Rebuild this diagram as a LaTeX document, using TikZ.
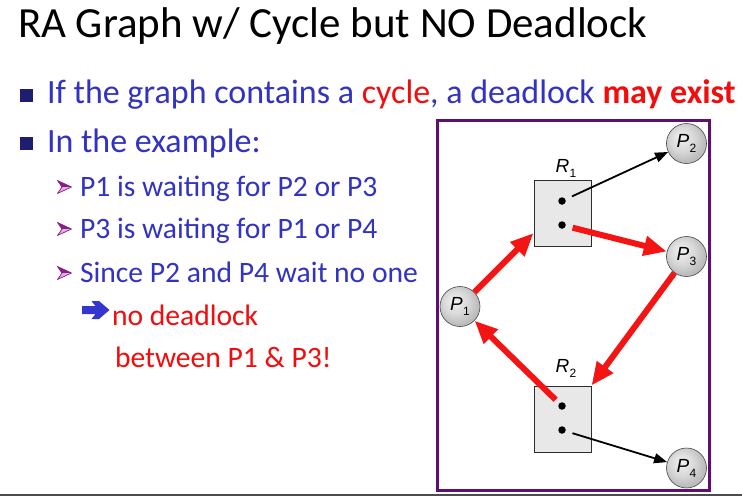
\documentclass[tikz,border=0pt]{standalone}
\usepackage{fontspec}
\setmainfont{Carlito}
\newfontfamily\labfont{Liberation Sans}
\usetikzlibrary{arrows.meta,calc}

\definecolor{txtblue}{HTML}{3232C3}
\definecolor{txtred}{HTML}{F20D0D}
\definecolor{bulletnavy}{HTML}{1E1E70}
\definecolor{framepurple}{HTML}{5E1070}
\definecolor{arrowred}{HTML}{F51414}
\definecolor{subpurple}{HTML}{8A1C8A}
\definecolor{subpink}{HTML}{DDB0DD}
\definecolor{heavyblue}{HTML}{3535D0}
\definecolor{barcolor}{HTML}{4D4D4D}

% light sphere-like fill for the process circles
\pgfdeclareradialshading{procshade}{\pgfpoint{-8bp}{8bp}}{%
  color(0bp)=(gray!10); color(16bp)=(gray!32); color(26bp)=(gray!52); color(50bp)=(gray!62)}

% italic letter with an upright subscript
\newcommand\sublab[2]{{\itshape #1}\kern0.3pt\raisebox{-5pt}{\fontsize{12}{12}\selectfont #2}}

\begin{document}
\begin{tikzpicture}[x=1pt,y=-1pt,
  txt/.style={anchor=base west, inner sep=0pt, outer sep=0pt},
  titletext/.style={txt, font=\fontsize{43}{43}\selectfont},
  maintext/.style={txt, font=\fontsize{34}{34}\selectfont, text=txtblue},
  subtext/.style={txt, font=\fontsize{29.6}{29.6}\selectfont, text=txtblue},
  redtext/.style={txt, font=\fontsize{29.6}{29.6}\selectfont, text=txtred},
  res/.style={rectangle, minimum width=57pt, minimum height=66pt, inner sep=0pt,
    fill=gray!18, draw=gray!35!black, line width=1pt},
  proc/.style={circle, minimum size=40pt, inner sep=0pt, shading=procshade,
    draw=gray!55!black, line width=0.6pt, font=\labfont\fontsize{19}{19}\selectfont},
  lbl/.style={inner sep=0pt, font=\labfont\fontsize{19}{19}\selectfont},
  dot/.style={circle, fill=black, inner sep=0pt, minimum size=7.5pt},
  holdarrow/.style={draw=black, line width=1.8pt, -{Triangle[length=13pt,width=10pt]}},
  redarrow/.style={draw=arrowred, line width=6pt, -{Triangle[length=23pt,width=19pt]}},
  sqbullet/.style={fill=bulletnavy},
  subarrow/.pic={
    \fill[subpurple] (0,-6.5) -- (14,0) -- (4.5,0) -- cycle;
    \fill[subpink] (4.5,0) -- (14,0) -- (0,6.5) -- cycle;
    \draw[subpurple, line width=0.7pt, line join=round] (0,-6.5) -- (14,0) -- (0,6.5) -- (4.5,0) -- cycle;
  }
]
\useasboundingbox (0,0) rectangle (742,496);
\fill[white] (0,0) rectangle (742,496);

% heading
\node[titletext] (title) at (18,37) {RA Graph w/ Cycle but NO Deadlock};

% first level bullets
\fill[sqbullet] (19.5,88.5) rectangle (33,102);
\node[maintext] (line1) at (47,103) {If the graph contains a {\color{txtred}cycle}, a deadlock {\color{txtred}\bfseries may exist}};
\fill[sqbullet] (19.5,136.5) rectangle (33,150);
\node[maintext] (line2) at (47,152) {In the example:};

% second level bullets
\pic at (57.5,187) {subarrow};
\node[subtext] (sub1) at (80,196) {P1 is waiting for P2 or P3};
\pic at (57.5,229) {subarrow};
\node[subtext] (sub2) at (80,238) {P3 is waiting for P1 or P4};
\pic at (57.5,273) {subarrow};
\node[subtext] (sub3) at (80,282) {Since P2 and P4 wait no one};

% conclusion
\fill[heavyblue] (82,306) -- (95.5,306) -- (91.5,301) -- (99,301) -- (109.5,310)
  -- (99,319) -- (91.5,319) -- (95.5,314) -- (82,314) -- cycle;
\node[redtext] (concl1) at (112,325) {no deadlock};
\node[redtext] (concl2) at (115,367) {between P1 \& P3!};

% graph frame
\draw[framepurple, line width=3pt] (437.5,120.5) rectangle (709.5,490.5);

% resources
\node[res] (r1) at (562.5,213) {};
\node[res] (r2) at (562.5,419) {};
\node[lbl] (r1lbl) at (566,168) {\sublab{R}{1}};
\node[lbl] (r2lbl) at (566,368) {\sublab{R}{2}};
\node[dot] (r1a) at (562,201) {};
\node[dot] (r1b) at (562,225) {};
\node[dot] (r2a) at (562,406) {};
\node[dot] (r2b) at (562,430) {};

% processes
\node[proc] (p1) at (460,306.5) {\sublab{P}{1}};
\node[proc] (p2) at (686.5,143.5) {\sublab{P}{2}};
\node[proc] (p3) at (686.5,256.5) {\sublab{P}{3}};
\node[proc] (p4) at (686.5,468) {\sublab{P}{4}};

% assignment and request edges
\draw[holdarrow, shorten <=7pt] (r1a) -- (p2);
\draw[holdarrow, shorten <=7pt] (r2b) -- (p4);
\draw[redarrow, shorten <=7pt] (r1b) -- (p3);
\draw[redarrow] (p3) -- (r2.north east);
\draw[redarrow, shorten <=5pt] (r2a) -- (p1);
\draw[redarrow] (p1) -- ($(r1.south west)!0.2!(r1.north west)$);

% bottom bar
\fill[barcolor] (0,494) rectangle (742,496);
\end{tikzpicture}
\end{document}
